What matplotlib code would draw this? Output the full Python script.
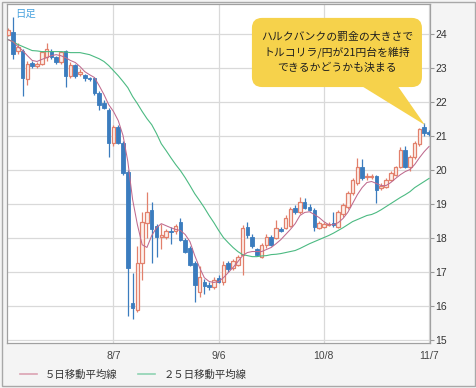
import numpy as np
import matplotlib
matplotlib.use("Agg")
import matplotlib.pyplot as plt
from matplotlib.lines import Line2D
from matplotlib.patches import FancyBboxPatch, Polygon, Rectangle

plt.rcParams["font.family"] = ["Noto Sans CJK JP", "DejaVu Sans"]

# daily candles, TRY/JPY (about 7/6 .. 11/7)
opens = [23.97, 24.04, 23.50, 23.50, 22.66, 23.14, 23.05, 23.12, 23.30, 23.50,
         23.30, 23.15, 23.48, 22.74, 23.09, 22.80, 22.78, 22.68, 22.68, 22.26,
         21.97, 21.74, 20.79, 21.24, 20.79, 19.94, 16.09, 15.88, 17.26, 18.44,
         18.82, 18.35, 18.03, 18.03, 18.20, 18.18, 18.47, 17.94, 17.70, 17.26,
         16.40, 16.70, 16.62, 16.56, 16.82, 16.70, 17.24, 17.12, 17.20, 17.50,
         18.30, 18.03, 17.65, 17.44, 17.79, 18.03, 18.00, 18.26, 18.29, 18.35,
         18.88, 18.74, 19.06, 18.91, 18.82, 18.29, 18.32, 18.38, 18.42, 18.32,
         18.68, 18.91, 19.32, 19.62, 20.09, 19.78, 19.78, 19.80, 19.47, 19.50,
         19.70, 19.85, 20.09, 20.59, 20.09, 20.38, 20.75, 21.26, 21.10]
highs = [24.15, 24.48, 23.72, 23.55, 23.18, 23.20, 23.15, 23.50, 23.72, 23.55,
         23.35, 23.50, 23.52, 23.15, 23.12, 22.95, 22.82, 22.72, 22.72, 22.30,
         22.05, 21.80, 21.30, 21.30, 20.85, 20.00, 16.95, 17.74, 18.74, 19.35,
         19.06, 18.40, 18.41, 18.25, 18.30, 18.40, 18.59, 18.00, 17.75, 17.30,
         17.15, 16.78, 16.68, 16.85, 16.90, 17.30, 17.30, 17.38, 17.50, 18.38,
         18.47, 18.10, 17.70, 17.85, 18.10, 18.08, 18.53, 18.32, 18.65, 18.90,
         18.95, 19.20, 19.15, 18.98, 18.86, 18.50, 18.45, 18.45, 18.76, 18.80,
         19.02, 19.38, 19.75, 20.35, 20.30, 19.90, 19.88, 19.85, 19.60, 19.75,
         19.95, 20.12, 20.65, 20.70, 20.42, 20.85, 21.22, 21.38, 21.15]
lows = [23.92, 23.24, 23.40, 22.15, 22.50, 23.00, 23.00, 23.08, 23.20, 23.25,
        23.10, 23.10, 22.44, 22.70, 22.70, 22.75, 22.62, 22.60, 22.20, 21.76,
        21.78, 20.38, 20.68, 20.75, 19.85, 15.70, 15.60, 15.80, 16.76, 18.00,
        17.26, 17.44, 17.65, 17.95, 17.80, 18.10, 17.90, 17.55, 17.15, 16.12,
        16.24, 16.35, 16.45, 16.50, 16.65, 16.62, 17.00, 17.05, 17.15, 16.90,
        18.00, 17.70, 17.45, 17.40, 17.70, 17.75, 17.95, 18.15, 18.25, 18.30,
        18.70, 18.70, 18.85, 18.78, 18.18, 18.25, 18.28, 18.33, 18.30, 18.28,
        18.62, 18.85, 19.25, 19.55, 19.70, 19.70, 19.72, 19.03, 19.40, 19.45,
        19.65, 19.80, 20.05, 20.05, 19.95, 20.30, 20.70, 21.00, 20.98]
closes = [24.10, 23.40, 23.62, 22.68, 23.12, 23.04, 23.10, 23.45, 23.55, 23.30,
          23.15, 23.45, 22.74, 23.09, 22.76, 22.88, 22.68, 22.65, 22.26, 21.91,
          21.82, 20.79, 21.24, 20.79, 19.91, 17.12, 15.94, 17.26, 18.47, 18.76,
          18.24, 18.03, 18.08, 18.18, 18.16, 18.35, 17.94, 17.59, 17.20, 16.62,
          16.85, 16.59, 16.56, 16.76, 16.70, 17.20, 17.09, 17.30, 17.44, 18.29,
          18.09, 17.74, 17.50, 17.79, 18.03, 17.79, 18.29, 18.20, 18.59, 18.85,
          18.76, 19.06, 18.88, 18.82, 18.32, 18.44, 18.41, 18.40, 18.36, 18.74,
          18.97, 19.32, 19.70, 20.09, 19.76, 19.82, 19.82, 19.41, 19.53, 19.70,
          19.91, 20.09, 20.59, 20.09, 20.38, 20.79, 21.18, 21.08, 21.05]

ma5 = [23.82, 23.76, 23.62, 23.50, 23.35, 23.21, 23.18, 23.24, 23.29, 23.35,
       23.38, 23.35, 23.29, 23.21, 23.15, 23.03, 22.88, 22.79, 22.71, 22.47,
       22.21, 21.91, 21.71, 21.44, 21.00, 20.24, 19.12, 18.38, 17.79, 17.71,
       18.06, 18.29, 18.41, 18.35, 18.29, 18.24, 18.21, 18.09, 17.88, 17.47,
       17.12, 16.82, 16.71, 16.68, 16.71, 16.82, 16.97, 17.12, 17.29, 17.47,
       17.56, 17.59, 17.59, 17.59, 17.65, 17.71, 17.82, 17.94, 18.09, 18.24,
       18.41, 18.65, 18.74, 18.76, 18.68, 18.59, 18.47, 18.38, 18.38, 18.44,
       18.56, 18.74, 19.00, 19.26, 19.47, 19.62, 19.65, 19.59, 19.53, 19.53,
       19.62, 19.74, 19.85, 19.94, 20.00, 20.15, 20.35, 20.53, 20.68]
ma25 = [23.82, 23.76, 23.68, 23.62, 23.56, 23.50, 23.49, 23.47, 23.47, 23.47,
        23.47, 23.47, 23.46, 23.44, 23.44, 23.44, 23.41, 23.38, 23.32, 23.26,
        23.18, 23.06, 22.91, 22.76, 22.59, 22.41, 22.15, 21.94, 21.71, 21.50,
        21.32, 21.06, 20.76, 20.56, 20.35, 20.15, 19.97, 19.76, 19.53, 19.29,
        19.09, 18.88, 18.65, 18.44, 18.21, 18.00, 17.85, 17.71, 17.59, 17.50,
        17.47, 17.44, 17.44, 17.46, 17.47, 17.50, 17.51, 17.53, 17.56, 17.59,
        17.62, 17.68, 17.75, 17.82, 17.88, 17.94, 18.00, 18.06, 18.13, 18.21,
        18.29, 18.38, 18.47, 18.53, 18.59, 18.65, 18.68, 18.74, 18.82, 18.91,
        19.00, 19.09, 19.18, 19.26, 19.35, 19.47, 19.56, 19.65, 19.74]

tick_pos = [22, 44, 66, 88]
tick_labels = ["8/7", "9/6", "10/8", "11/7"]
y_ticks = list(range(15, 25))

UP_EDGE = "#e2806c"
UP_FACE = "#fdf1ec"
DOWN = "#3b7cbe"
MA5_COLOR = "#bf6a8e"
MA25_COLOR = "#4cba82"

fig = plt.figure(figsize=(4.77, 3.88), dpi=100, facecolor="#f4f4f4")
fig.patches.append(Rectangle((2 / 477, 2 / 388), 473 / 477, 384 / 388,
                             transform=fig.transFigure, fill=False,
                             edgecolor="#a8a8a8", linewidth=1.0))
ax = fig.add_axes([7 / 477, 45 / 388, 423 / 477, 339 / 388])
ax.set_facecolor("white")

idx = np.arange(len(opens))
o = np.array(opens)
c = np.array(closes)
up = c >= o
colors = np.where(up, UP_EDGE, DOWN)

ax.vlines(idx, lows, highs, colors=colors, linewidth=0.9, zorder=2)
body_lo = np.minimum(o, c)
body_h = np.maximum(np.abs(c - o), 0.03)
ax.bar(idx[up], body_h[up], bottom=body_lo[up], width=0.74,
       facecolor=UP_FACE, edgecolor=UP_EDGE, linewidth=0.9, zorder=3)
ax.bar(idx[~up], body_h[~up], bottom=body_lo[~up], width=0.74,
       facecolor=DOWN, edgecolor=DOWN, linewidth=0.6, zorder=3)

ax.plot(idx, ma25, color=MA25_COLOR, linewidth=0.8, zorder=4)
ax.plot(idx, ma5, color=MA5_COLOR, linewidth=0.75, zorder=4)

ax.set_xlim(-0.27, 88.2)
ax.set_ylim(14.9, 24.87)
ax.set_xticks(tick_pos)
ax.set_xticklabels(tick_labels)
ax.set_yticks(y_ticks)
ax.yaxis.tick_right()
ax.tick_params(axis="y", direction="out", length=3, width=0.8, pad=1,
               color="#999999", labelsize=7.5, labelcolor="#333333")
ax.tick_params(axis="x", length=0, pad=6, labelsize=7.5, labelcolor="#444444")
for lab in ax.get_xticklabels() + ax.get_yticklabels():
    lab.set_family(["Liberation Sans", "DejaVu Sans"])
ax.grid(True, color="#d9d9d9", linewidth=0.9)
ax.set_axisbelow(True)
for sp in ax.spines.values():
    sp.set_color("#a0a0a0")
    sp.set_linewidth(0.9)

ax.text(0.019, 0.972, "日足", transform=ax.transAxes, ha="left", va="center",
        fontsize=7.5, color="#4aa3df")

# callout bubble
bubble = "#f6d24b"
ax.add_patch(FancyBboxPatch((0.579, 0.755), 0.402, 0.204,
                            boxstyle="round,pad=0,rounding_size=0.024",
                            mutation_aspect=1.25, transform=ax.transAxes,
                            facecolor=bubble, edgecolor="none", zorder=5))
ax.add_patch(Polygon([(0.823, 0.77), (0.917, 0.77), (0.988, 0.643)],
                     closed=True, transform=ax.transAxes,
                     facecolor=bubble, edgecolor="none", zorder=5))
ax.text(0.78, 0.857,
        "ハルクバンクの罰金の大きさで\nトルコリラ/円が21円台を維持\nできるかどうかも決まる",
        transform=ax.transAxes, ha="center", va="center", fontsize=7.8,
        linespacing=1.5, color="#1e1e1e", zorder=6)

handles = [Line2D([], [], color="#dba3b3", linewidth=1.2),
           Line2D([], [], color="#8fd3b2", linewidth=1.2)]
fig.legend(handles, ["５日移動平均線", "２５日移動平均線"], loc="center left",
           bbox_to_anchor=(0.022, 0.034), ncol=2, frameon=False, fontsize=7.5,
           handlelength=1.6, handletextpad=0.8, columnspacing=2.0,
           labelcolor="#333333")

fig.savefig("out.png", dpi=100, facecolor=fig.get_facecolor())
